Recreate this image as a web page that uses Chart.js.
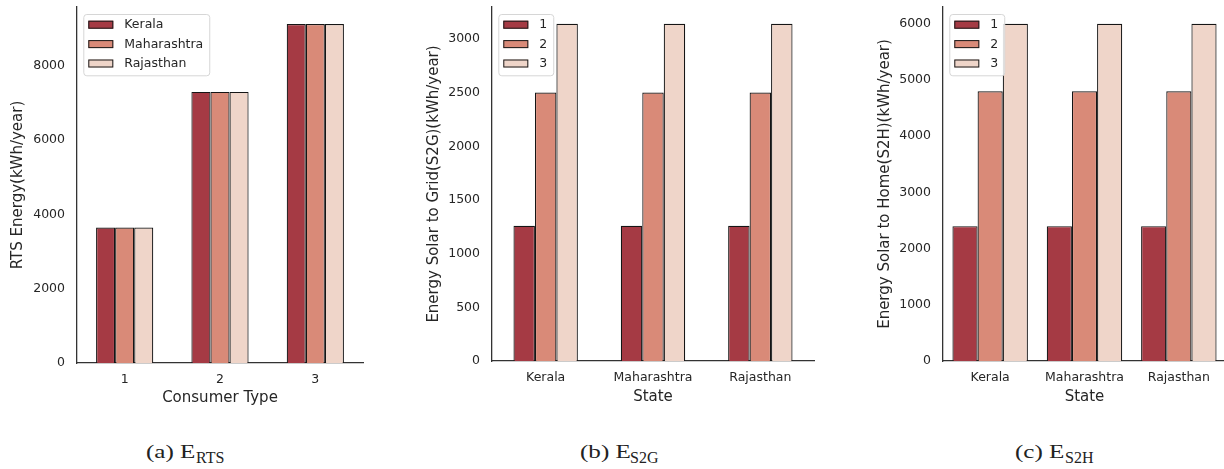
<!DOCTYPE html>
<html><head><meta charset="utf-8">
<script src="https://cdn.jsdelivr.net/npm/chart.js@4.4.0/dist/chart.umd.min.js"></script>
<style>
html,body{margin:0;padding:0;background:#fff;width:1224px;height:469px;overflow:hidden;position:relative;}
canvas{position:absolute;top:0;}
.cap{position:absolute;font-family:"Liberation Serif","Times New Roman",serif;color:#222;white-space:nowrap;line-height:1;}
.main{font-size:19px;transform:scaleX(1.32);transform-origin:0 0;}
.sub{font-size:16px;}
</style></head><body>
<canvas id="cA" width="400" height="420" style="left:0px"></canvas>
<canvas id="cB" width="420" height="420" style="left:410px"></canvas>
<canvas id="cC" width="400" height="420" style="left:830px"></canvas>
<div class="cap main" style="left:146px;top:441.7px">(a) E</div><div class="cap sub" style="left:196px;top:450px">RTS</div>
<div class="cap main" style="left:580px;top:441.7px">(b) E</div><div class="cap sub" style="left:630px;top:450px">S2G</div>
<div class="cap main" style="left:1015px;top:441.7px">(c) E</div><div class="cap sub" style="left:1065px;top:450px">S2H</div>
<script>
// ---- data ----
const consumerTypes = ['1', '2', '3'];
const states = ['Kerala', 'Maharashtra', 'Rajasthan'];

const rtsKerala      = [3650, 7300, 9130];
const rtsMaharashtra = [3650, 7300, 9130];
const rtsRajasthan   = [3650, 7300, 9130];

const s2gType1 = [1260, 1260, 1260];
const s2gType2 = [2500, 2500, 2500];
const s2gType3 = [3140, 3140, 3140];

const s2hType1 = [2400, 2400, 2400];
const s2hType2 = [4800, 4800, 4800];
const s2hType3 = [6000, 6000, 6000];

const rtsTicks = [0, 2000, 4000, 6000, 8000];
const s2gTicks = [0, 500, 1000, 1500, 2000, 2500, 3000];
const s2hTicks = [0, 1000, 2000, 3000, 4000, 5000, 6000];

const palette = ['#a53a44', '#d98a78', '#efd5c9'];

// ---- helpers ----
const FONT = '"DejaVu Sans", sans-serif';
const TXT = '#262626';

const boxLegend = {
  id: 'boxLegend',
  afterDraw(chart, args, o) {
    const {ctx, chartArea} = chart;
    const ds = chart.data.datasets;
    ctx.save();
    ctx.font = '12.5px ' + FONT;
    const tw = Math.max(...ds.map(d => ctx.measureText(d.label).width));
    const x0 = chartArea.left + 6.3, y0 = chartArea.top + 7;
    const w = 5 + 25 + 11 + tw + 6;
    const rowH = 19.4;
    const h = 10.7 + rowH * (ds.length - 1) + 11.8;
    ctx.beginPath();
    ctx.roundRect(x0 + 0.5, y0 + 0.5, w, h, 3);
    ctx.fillStyle = 'rgba(255,255,255,0.85)';
    ctx.fill();
    ctx.strokeStyle = '#d6d6d6';
    ctx.lineWidth = 1;
    ctx.stroke();
    ds.forEach((d, i) => {
      const cy = y0 + 10.7 + rowH * i;
      ctx.fillStyle = d.backgroundColor;
      ctx.fillRect(x0 + 5, cy - 4, 25, 8);
      ctx.strokeStyle = '#1a1a1a';
      ctx.lineWidth = 1;
      ctx.strokeRect(x0 + 5.5, cy - 3.5, 24, 7);
      ctx.fillStyle = TXT;
      ctx.textBaseline = 'middle';
      ctx.textAlign = 'left';
      ctx.fillText(d.label, x0 + 41, cy + 0.5);
    });
    ctx.restore();
  }
};

function makeChart(id, labels, series, names, ticks, c) {
  const maxVal = Math.max(...series.flat());
  return new Chart(document.getElementById(id), {
    type: 'bar',
    data: {
      labels: labels,
      datasets: series.map((s, i) => ({
        label: names[i], data: s,
        backgroundColor: palette[i], borderColor: '#151515', borderWidth: 1.2,
        categoryPercentage: c.catPct, barPercentage: 1.0
      }))
    },
    options: {
      responsive: false, animation: false, devicePixelRatio: 1,
      layout: {padding: {top: 7, right: c.padRight, bottom: 0, left: 0}},
      plugins: {legend: {display: false}, tooltip: {enabled: false}},
      scales: {
        x: {
          grid: {display: false, drawTicks: false},
          border: {display: true, color: '#333', width: 1.3},
          ticks: {color: TXT, font: {family: FONT, size: 12.5, lineHeight: 1.1}, padding: 10},
          title: {display: true, text: c.xTitle, color: TXT, font: {family: FONT, size: 15, lineHeight: 1.2}, padding: {top: 0, bottom: c.xTitlePad}},
          afterFit(s) { s.height = c.xH; s.paddingLeft = 0; s.paddingRight = 0; }
        },
        y: {
          min: 0, max: maxVal * 1.05,
          grid: {display: false, drawTicks: false},
          border: {display: true, color: '#333', width: 1.3},
          ticks: {color: TXT, font: {family: FONT, size: 12.5, lineHeight: 1.1}, padding: 12,
                  callback: (v) => String(v)},
          afterBuildTicks(s) { s.ticks = ticks.map(v => ({value: v})); },
          title: {display: true, text: c.yTitle, color: TXT, font: {family: FONT, size: 15, lineHeight: 1.2}, padding: {top: c.yTitlePad, bottom: 0}},
          afterFit(s) { s.width = c.yW; s.paddingTop = 0; s.paddingBottom = 0; }
        }
      }
    },
    plugins: [boxLegend]
  });
}

makeChart('cA', consumerTypes, [rtsKerala, rtsMaharashtra, rtsRajasthan], states, rtsTicks,
  {catPct: 0.6, padRight: 37, xH: 57, yW: 77, xTitle: 'Consumer Type', yTitle: 'RTS Energy(kWh/year)', xTitlePad: 13, yTitlePad: 9});
makeChart('cB', states, [s2gType1, s2gType2, s2gType3], consumerTypes, s2gTicks,
  {catPct: 0.6, padRight: 16, xH: 59, yW: 82, xTitle: 'State', yTitle: 'Energy Solar to Grid(S2G)(kWh/year)', xTitlePad: 14, yTitlePad: 15});
makeChart('cC', states, [s2hType1, s2hType2, s2hType3], consumerTypes, s2hTicks,
  {catPct: 0.8, padRight: 4, xH: 59, yW: 113, xTitle: 'State', yTitle: 'Energy Solar to Home(S2H)(kWh/year)', xTitlePad: 14, yTitlePad: 46});
</script>
</body></html>
